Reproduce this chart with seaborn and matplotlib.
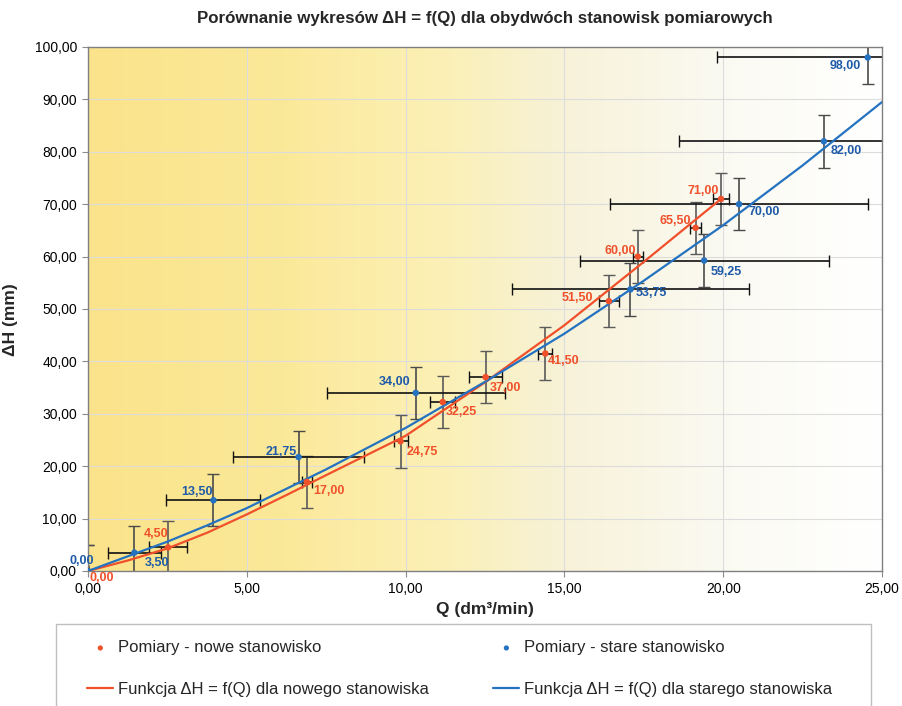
import numpy as np
import matplotlib
matplotlib.use("Agg")
import matplotlib.pyplot as plt
from matplotlib.colors import LinearSegmentedColormap
from matplotlib.ticker import FuncFormatter, MultipleLocator
from matplotlib.patches import Rectangle
import seaborn as sns

# pomiary - nowe stanowisko
new_q = [0.00, 2.52, 6.89, 9.84, 11.17, 12.52, 14.40, 16.40, 17.31, 19.13, 19.93]
new_h = [0.00, 4.50, 17.00, 24.75, 32.25, 37.00, 41.50, 51.50, 60.00, 65.50, 71.00]
new_q_err = [0.00, 0.59, 0.16, 0.22, 0.40, 0.53, 0.22, 0.32, 0.15, 0.17, 0.25]
new_h_err = [5.0] * len(new_h)

# pomiary - stare stanowisko
old_q = [0.00, 1.46, 3.95, 6.63, 10.32, 17.08, 19.40, 20.50, 23.17, 24.55]
old_h = [0.00, 3.50, 13.50, 21.75, 34.00, 53.75, 59.25, 70.00, 82.00, 98.00]
old_q_err = [0.00, 0.84, 1.48, 2.07, 2.80, 3.72, 3.92, 4.05, 4.57, 4.74]
old_h_err = [5.0] * len(old_h)

# funkcje dH = f(Q)
fit_new_q = [0, 1.25, 2.5, 3.75, 5, 6.25, 7.5, 10, 12.5, 15, 17.5, 19.93]
fit_new_h = [0, 2.0, 4.3, 7.3, 10.8, 14.5, 18.3, 25.8, 36.0, 46.9, 59.0, 71.0]
fit_old_q = [0, 1.25, 2.5, 3.75, 5, 7.5, 10, 12.5, 15, 17.5, 20, 22.5, 25]
fit_old_h = [0, 2.8, 5.6, 8.7, 12.0, 19.4, 27.3, 36.1, 45.3, 55.4, 66.0, 77.4, 89.5]

# przesuniecia etykiet (px)
new_off = [(14, -7), (-12, 13), (22, -9), (22, -11), (19, -10), (20, -11),
           (18, -7), (-31, 3), (-18, 6), (-20, 7), (-18, 8)]
old_off = [(-6, 10), (23, -10), (-16, 8), (-17, 5), (-21, 11), (21, -4),
           (22, -11), (25, -8), (22, -10), (-22, -9)]

RED = "#F0502A"
BLUE = "#2472C0"
BLUE_TXT = "#1E5AA8"

sns.set_theme(style="whitegrid")
plt.rcParams['font.family'] = ['Liberation Sans', 'DejaVu Sans']

fig = plt.figure(figsize=(9.03, 7.06), dpi=100)
ax = fig.add_axes([88/903, 1-571/706, 794/903, 524/706])

# tlo - gradient
cmap = LinearSegmentedColormap.from_list(
    "bg", [(0.0, "#FAE38A"), (0.25, "#FBE99A"), (0.45, "#FBF0B6"),
           (0.6, "#F7F2D8"), (0.8, "#FBFAF2"), (1.0, "#FFFFFF")])
ax.imshow(np.linspace(0, 1, 256).reshape(1, -1), cmap=cmap, aspect="auto",
          extent=[0, 25, 0, 100], zorder=0)

# bledy
ax.errorbar(new_q, new_h, yerr=new_h_err, fmt="none", ecolor="#5A5A5A",
            elinewidth=1.2, capsize=4, zorder=2)
ax.errorbar(new_q, new_h, xerr=new_q_err, fmt="none", ecolor="#111111",
            elinewidth=1.2, capsize=4, zorder=2)
ax.errorbar(old_q, old_h, yerr=old_h_err, fmt="none", ecolor="#4A4A4A",
            elinewidth=1.2, capsize=4, zorder=2)
ax.errorbar(old_q, old_h, xerr=old_q_err, fmt="none", ecolor="#111111",
            elinewidth=1.2, capsize=4, zorder=2)

sns.lineplot(x=fit_new_q, y=fit_new_h, color=RED, linewidth=1.6, ax=ax,
             label="Funkcja ΔH = f(Q) dla nowego stanowiska", zorder=3)
sns.lineplot(x=fit_old_q, y=fit_old_h, color=BLUE, linewidth=1.6, ax=ax,
             label="Funkcja ΔH = f(Q) dla starego stanowiska", zorder=3)
sns.scatterplot(x=new_q, y=new_h, color=RED, s=22, edgecolor="none", ax=ax,
                label="Pomiary - nowe stanowisko", zorder=4)
sns.scatterplot(x=old_q, y=old_h, color=BLUE, s=22, edgecolor="none", ax=ax,
                label="Pomiary - stare stanowisko", zorder=4)

fmt = lambda v: f"{v:.2f}".replace(".", ",")
for q, h, (dx, dy) in zip(new_q, new_h, new_off):
    ax.annotate(fmt(h), (q, h), xytext=(dx, dy), textcoords="offset pixels",
                ha="center", va="center", color=RED, fontsize=9,
                fontweight="bold", annotation_clip=False, zorder=5)
for q, h, (dx, dy) in zip(old_q, old_h, old_off):
    ax.annotate(fmt(h), (q, h), xytext=(dx, dy), textcoords="offset pixels",
                ha="center", va="center", color=BLUE_TXT, fontsize=9,
                fontweight="bold", annotation_clip=False, zorder=5)

ax.set_xlim(0, 25)
ax.set_ylim(0, 100)
ax.xaxis.set_major_locator(MultipleLocator(5))
ax.yaxis.set_major_locator(MultipleLocator(10))
ax.xaxis.set_major_formatter(FuncFormatter(lambda v, p: fmt(v)))
ax.yaxis.set_major_formatter(FuncFormatter(lambda v, p: fmt(v)))
ax.grid(True, color="#DCDCDC", linewidth=0.8)
ax.tick_params(axis="both", labelsize=10, colors="#000000", length=4,
               width=0.8, pad=4, direction="out")
ax.tick_params(axis="both", color="#8C8C8C")
ax.xaxis.set_ticks_position("bottom")
ax.yaxis.set_ticks_position("left")
for s in ax.spines.values():
    s.set_color("#808080")
    s.set_linewidth(1.0)

ax.set_xlabel("Q (dm³/min)", fontsize=12.5, fontweight="bold")
ax.set_ylabel("ΔH (mm)", fontsize=12.5, fontweight="bold")
ax.xaxis.set_label_coords(0.5, -0.06)
ax.yaxis.set_label_coords(-0.088, 0.48)

fig.text(485/903, 1-18/706,
         "Porównanie wykresów ΔH = f(Q) dla obydwóch stanowisk pomiarowych",
         ha="center", va="center", fontsize=12.2, fontweight="bold")

# legenda
handles, labels = ax.get_legend_handles_labels()
ax.get_legend().remove()
order = [2, 0, 3, 1]
fig.patches.append(Rectangle((56/903, -0.05), (871-56)/903, 0.05+1-624/706,
                             transform=fig.transFigure, facecolor="white",
                             edgecolor="#BFBFBF", linewidth=1.0))
leg = fig.legend([handles[i] for i in order], [labels[i] for i in order],
                 loc="upper left", bbox_to_anchor=(79/903, 1-632/706),
                 ncol=2, frameon=False, fontsize=12, handlelength=1.56,
                 handletextpad=0.3, columnspacing=3.85, labelspacing=1.6,
                 borderpad=0, markerscale=0.8)

fig.savefig("out.png", dpi=100)
